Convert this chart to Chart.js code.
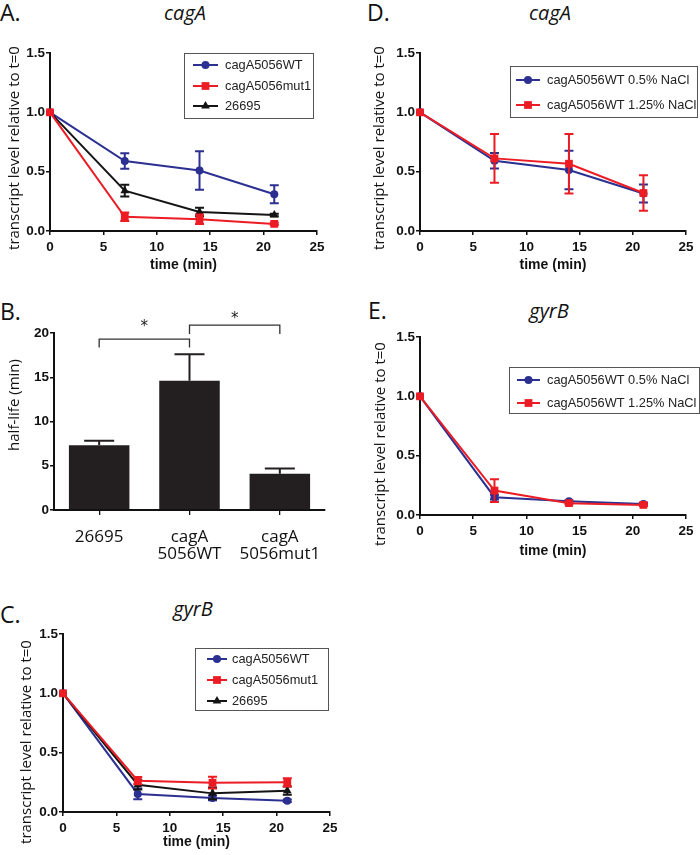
<!DOCTYPE html>
<html>
<head>
<meta charset="utf-8">
<script src="https://cdn.jsdelivr.net/npm/chart.js@4.4.0/dist/chart.umd.min.js"></script>
<style>
  body { margin: 0; background: #fff; width: 700px; height: 855px; position: relative; overflow: hidden; font-family: 'Open Sans', sans-serif; color: #111; }
  .panel { position: absolute; }
  .lbl { position: absolute; font-size: 23px; line-height: 1; }
  .ttl { position: absolute; font-size: 20px; font-style: italic; line-height: 1; transform: translateX(-50%); }
</style>
</head>
<body>

<div class="lbl" style="left:0px;top:1px">A.</div>
<div class="ttl" style="left:185px;top:3px">cagA</div>
<div class="panel" style="left:0;top:0;width:350px;height:280px"><canvas id="chartA"></canvas></div>

<div class="lbl" style="left:0px;top:300px">B.</div>
<div class="panel" style="left:0;top:280px;width:350px;height:290px"><canvas id="chartB"></canvas></div>

<div class="lbl" style="left:0px;top:603px">C.</div>
<div class="ttl" style="left:193px;top:599px">gyrB</div>
<div class="panel" style="left:0;top:570px;width:350px;height:285px"><canvas id="chartC"></canvas></div>

<div class="lbl" style="left:367px;top:1px">D.</div>
<div class="ttl" style="left:550px;top:3px">cagA</div>
<div class="panel" style="left:350px;top:0;width:350px;height:280px"><canvas id="chartD"></canvas></div>

<div class="lbl" style="left:368px;top:299px">E.</div>
<div class="ttl" style="left:549px;top:301px">gyrB</div>
<div class="panel" style="left:350px;top:280px;width:350px;height:290px"><canvas id="chartE"></canvas></div>

<script>
// time points and axis ticks
const timeMin = [0, 7, 14, 21];
const xTicks = [0, 5, 10, 15, 20, 25];
const yTicksRel = [0, 0.5, 1.0, 1.5];

// A. cagA transcript
const aWT = [1.0, 0.59, 0.51, 0.31];
const aWTErr = [0, 0.066, 0.163, 0.076];
const aMut = [1.0, 0.12, 0.10, 0.06];
const aMutErr = [0, 0.035, 0.04, 0.01];
const a26695 = [1.0, 0.34, 0.16, 0.135];
const a26695Err = [0, 0.05, 0.035, 0.01];

// B. half-life
const bCats = ['26695', ['cagA', '5056WT'], ['cagA', '5056mut1']];
const bHalfLife = [7.33, 14.6, 4.1];
const bHalfLifeErr = [0.5, 3.0, 0.6];
const bYTicks = [0, 5, 10, 15, 20];
const bracketFrom = [0, 1];
const bracketTo = [1, 2];
const bracketTop = [19.3, 20.9];
const bracketFoot = [18.35, 19.9];
const bracketStar = [21.05, 21.9];

// C. gyrB transcript
const cWT = [1.0, 0.152, 0.118, 0.095];
const cWTErr = [0, 0.045, 0.02, 0.01];
const cMut = [1.0, 0.264, 0.247, 0.25];
const cMutErr = [0, 0.03, 0.05, 0.035];
const c26695 = [1.0, 0.23, 0.157, 0.18];
const c26695Err = [0, 0.04, 0.05, 0.035];

// D. cagA, salt
const dLow = [1.0, 0.592, 0.514, 0.316];
const dLowErr = [0, 0.066, 0.163, 0.076];
const dHigh = [1.0, 0.612, 0.567, 0.32];
const dHighErr = [0, 0.206, 0.25, 0.15];

// E. gyrB, salt
const eLow = [1.0, 0.15, 0.115, 0.093];
const eLowErr = [0, 0.02, 0.01, 0.01];
const eHigh = [1.0, 0.206, 0.10, 0.085];
const eHighErr = [0, 0.096, 0.01, 0.01];

const BLUE = 'rgb(43, 48, 145)';
const RED = 'rgb(236, 28, 36)';
const BLACK = 'rgb(20, 20, 20)';

// error bars, drawn right after each dataset
const errorBars = {
    id: 'errorBars',
    afterDatasetDraw(chart, args) {
        const ds = chart.data.datasets[args.index];
        if (!ds.errors) return;
        const ctx = chart.ctx;
        const y = chart.scales.y;
        ctx.save();
        ctx.strokeStyle = ds.errColor || ds.borderColor;
        ctx.lineWidth = 2;
        args.meta.data.forEach(function (el, i) {
            const e = ds.errors[i];
            if (!e) return;
            const v = typeof ds.data[i] === 'object' ? ds.data[i].y : ds.data[i];
            const px = el.x;
            const top = y.getPixelForValue(v + e);
            const bot = ds.errUpOnly ? y.getPixelForValue(v) : y.getPixelForValue(v - e);
            const half = (ds.capWidth || 9) / 2;
            ctx.beginPath();
            ctx.moveTo(px, top); ctx.lineTo(px, bot);
            ctx.moveTo(px - half, top); ctx.lineTo(px + half, top);
            if (!ds.errUpOnly) { ctx.moveTo(px - half, bot); ctx.lineTo(px + half, bot); }
            ctx.stroke();
        });
        ctx.restore();
    }
};

// boxed legend with line + marker
const boxLegend = {
    id: 'boxLegend',
    afterDraw(chart, args, o) {
        if (!o || !o.box) return;
        const ctx = chart.ctx;
        ctx.save();
        ctx.strokeStyle = '#555';
        ctx.lineWidth = 1;
        ctx.strokeRect(o.box[0] + 0.5, o.box[1] + 0.5, o.box[2], o.box[3]);
        ctx.font = '12.8px "Liberation Sans", Arial, sans-serif';
        ctx.textBaseline = 'middle';
        chart.data.datasets.forEach(function (ds, i) {
            const ry = o.rows[i];
            ctx.strokeStyle = ds.borderColor;
            ctx.fillStyle = ds.borderColor;
            ctx.lineWidth = 2;
            ctx.beginPath();
            ctx.moveTo(o.line[0], ry); ctx.lineTo(o.line[1], ry);
            ctx.stroke();
            Chart.helpers.drawPoint(ctx, { pointStyle: ds.pointStyle, radius: ds.pointRadius, rotation: 0, borderWidth: 0 },
                (o.line[0] + o.line[1]) / 2, ry);
            ctx.fillStyle = '#222';
            ctx.fillText(ds.label, o.textX, ry + 0.5);
        });
        ctx.restore();
    }
};

// rotated y-axis title at a set place
const yTitle = {
    id: 'yTitle',
    afterDraw(chart, args, o) {
        if (!o || !o.text) return;
        const ctx = chart.ctx;
        ctx.save();
        ctx.translate(o.x, o.y);
        ctx.rotate(-Math.PI / 2);
        ctx.font = '15px "Open Sans", sans-serif';
        ctx.fillStyle = '#111';
        ctx.textAlign = 'center';
        ctx.textBaseline = 'middle';
        ctx.fillText(o.text, 0, 0);
        ctx.restore();
    }
};

// significance brackets for B
const brackets = {
    id: 'brackets',
    afterDraw(chart) {
        const ctx = chart.ctx;
        const x = chart.scales.x, y = chart.scales.y;
        ctx.save();
        ctx.strokeStyle = '#333';
        ctx.lineWidth = 1.3;
        ctx.fillStyle = '#222';
        ctx.font = '15px "DejaVu Sans", sans-serif';
        ctx.textAlign = 'center';
        ctx.textBaseline = 'middle';
        bracketFrom.forEach(function (f, i) {
            const x1 = x.getPixelForValue(f), x2 = x.getPixelForValue(bracketTo[i]);
            const yt = y.getPixelForValue(bracketTop[i]), yf = y.getPixelForValue(bracketFoot[i]);
            ctx.beginPath();
            ctx.moveTo(x1, yf); ctx.lineTo(x1, yt); ctx.lineTo(x2, yt); ctx.lineTo(x2, yf);
            ctx.stroke();
            ctx.fillText('*', (x1 + x2) / 2, y.getPixelForValue(bracketStar[i]) + 3);
        });
        ctx.restore();
    }
};

const tickFont = { family: '"Liberation Sans", Arial, sans-serif', size: 13.5, weight: 'bold' };
const axisGrid = { display: true, drawOnChartArea: false, drawTicks: true, tickLength: 4, color: '#111', lineWidth: 1.5 };
const axisBorder = { display: true, color: '#111', width: 2 };

function series(label, values, errors, color, marker, radius, order) {
    return {
        label: label,
        data: timeMin.map((t, i) => ({ x: t, y: values[i] })),
        errors: errors,
        borderColor: color,
        backgroundColor: color,
        borderWidth: 2,
        pointStyle: marker,
        pointRadius: radius,
        pointBorderWidth: 0,
        pointBackgroundColor: color,
        tension: 0,
        clip: false,
        order: order
    };
}

function linePanel(id, datasets, g) {
    return new Chart(document.getElementById(id), {
        type: 'line',
        data: { datasets: datasets },
        options: {
            responsive: true,
            maintainAspectRatio: false,
            animation: false,
            events: [],
            layout: { padding: { top: g.top, right: g.right, bottom: 0, left: 0 } },
            plugins: {
                legend: { display: false },
                tooltip: { enabled: false },
                boxLegend: g.legend,
                yTitle: { text: 'transcript level relative to t=0', x: g.ytX, y: g.ytY }
            },
            scales: {
                x: {
                    type: 'linear', min: 0, max: 25,
                    afterBuildTicks: sc => { sc.ticks = xTicks.map(v => ({ value: v })); },
                    afterFit: sc => { sc.height = g.xh; },
                    grid: axisGrid, border: axisBorder,
                    ticks: { font: tickFont, color: '#111', padding: 4, maxRotation: 0 },
                    title: { display: true, text: 'time (min)', color: '#111', padding: { top: 0, bottom: g.xtPad },
                        font: { family: '"Liberation Sans", Arial, sans-serif', size: 14, weight: 'bold' } }
                },
                y: {
                    min: 0, max: 1.5,
                    afterBuildTicks: sc => { sc.ticks = yTicksRel.map(v => ({ value: v })); },
                    afterFit: sc => { sc.width = g.yw; },
                    grid: axisGrid, border: axisBorder,
                    ticks: { font: tickFont, color: '#111', padding: 1, callback: v => v.toFixed(1) }
                }
            }
        },
        plugins: [errorBars, boxLegend, yTitle]
    });
}

// A
linePanel('chartA', [
    series('cagA5056WT', aWT, aWTErr, BLUE, 'circle', 4, 3),
    series('cagA5056mut1', aMut, aMutErr, RED, 'rect', 5.5, 1),
    series('26695', a26695, a26695Err, BLACK, 'triangle', 5, 2)
], { top: 53, right: 33, xh: 49, yw: 50, xtPad: 6, ytX: 15, ytY: 148,
     legend: { box: [184, 53, 129, 65], rows: [65, 86, 106], line: [193, 218], textX: 225 } });

// C
linePanel('chartC', [
    series('cagA5056WT', cWT, cWTErr, BLUE, 'circle', 4, 3),
    series('cagA5056mut1', cMut, cMutErr, RED, 'rect', 5.5, 1),
    series('26695', c26695, c26695Err, BLACK, 'triangle', 5, 2)
], { top: 64, right: 20, xh: 43, yw: 63, xtPad: 4, ytX: 27, ytY: 172,
     legend: { box: [195, 78, 133, 62], rows: [89, 110, 131], line: [207, 227], textX: 232 } });

// D
linePanel('chartD', [
    series('cagA5056WT 0.5% NaCl', dLow, dLowErr, BLUE, 'circle', 4, 2),
    series('cagA5056WT 1.25% NaCl', dHigh, dHighErr, RED, 'rect', 5.5, 1)
], { top: 53, right: 14, xh: 49, yw: 70, xtPad: 6, ytX: 30, ytY: 148,
     legend: { box: [160, 66, 187, 51], rows: [80, 105], line: [166, 190], textX: 197 } });

// E
linePanel('chartE', [
    series('cagA5056WT 0.5% NaCl', eLow, eLowErr, BLUE, 'circle', 4, 2),
    series('cagA5056WT 1.25% NaCl', eHigh, eHighErr, RED, 'rect', 5.5, 1)
], { top: 57, right: 14, xh: 55, yw: 70, xtPad: 10, ytX: 31, ytY: 164,
     legend: { box: [159, 87, 190, 46], rows: [100, 123], line: [167, 190], textX: 197 } });

// B
new Chart(document.getElementById('chartB'), {
    type: 'bar',
    data: {
        labels: bCats,
        datasets: [{
            data: bHalfLife,
            errors: bHalfLifeErr,
            errUpOnly: true,
            capWidth: 30,
            errColor: '#231f20',
            backgroundColor: '#231f20',
            borderWidth: 0,
            barPercentage: 0.67,
            categoryPercentage: 1
        }]
    },
    options: {
        responsive: true,
        maintainAspectRatio: false,
        animation: false,
        events: [],
        layout: { padding: { top: 53, right: 25, bottom: 0, left: 0 } },
        plugins: {
            legend: { display: false },
            tooltip: { enabled: false },
            yTitle: { text: 'half-life (min)', x: 15, y: 125 }
        },
        scales: {
            x: {
                afterFit: sc => { sc.height = 60; },
                grid: { display: true, drawOnChartArea: false, drawTicks: true, tickLength: 5, color: '#111', lineWidth: 1.3, offset: false },
                border: axisBorder,
                ticks: { font: { family: '"Open Sans", sans-serif', size: 17, lineHeight: 1.0 }, color: '#111', padding: 14, maxRotation: 0 }
            },
            y: {
                min: 0, max: 20,
                afterBuildTicks: sc => { sc.ticks = bYTicks.map(v => ({ value: v })); },
                afterFit: sc => { sc.width = 54; },
                grid: axisGrid, border: axisBorder,
                ticks: { font: tickFont, color: '#111', padding: 1 }
            }
        }
    },
    plugins: [errorBars, brackets, yTitle]
});
</script>
</body>
</html>
